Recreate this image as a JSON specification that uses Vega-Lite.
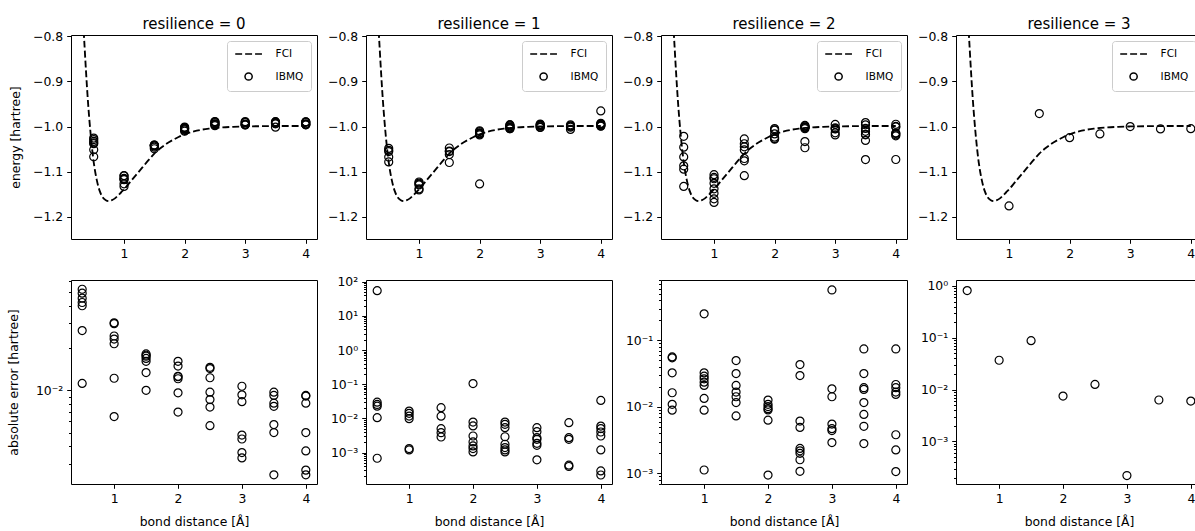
{
"$schema": "https://vega.github.io/schema/vega-lite/v6.json",
"padding": {"left": 6, "top": 16, "right": 0, "bottom": 0},
"config": {
  "font": "DejaVu Sans",
  "view": {"stroke": "black", "strokeWidth": 1},
  "axis": {"domain": false, "grid": false, "tickColor": "black", "tickWidth": 1, "tickSize": 4.3, "labelPadding": 4, "labelFontSize": 12.4, "labelColor": "black", "labelFont": "DejaVu Sans", "titleFont": "DejaVu Sans", "titleFontSize": 12.4, "titleFontWeight": "normal", "titleColor": "black", "labelOverlap": false, "labelFlush": false},
  "axisY": {"titlePadding": 10},
  "axisX": {"titlePadding": 11},
  "title": {"font": "DejaVu Sans", "fontSize": 15, "fontWeight": "normal", "color": "black", "anchor": "middle", "frame": "group", "offset": -2, "baseline": "alphabetic"},
  "legend": {"orient": "top-right", "offset": 6, "padding": 7.5, "fillColor": "rgba(255,255,255,0.8)", "strokeColor": "#cccccc", "cornerRadius": 3, "labelFontSize": 10.5, "labelFont": "DejaVu Sans", "labelColor": "black", "symbolSize": 81, "symbolStrokeWidth": 1.5, "symbolStrokeColor": "black", "symbolFillColor": "transparent", "rowPadding": 9.5, "labelOffset": 21.5, "symbolOffset": 8.6}
},
"datasets": {
"fci": [
{"r":0.30,"E":-0.700},{"r":0.35,"E":-0.825},{"r":0.40,"E":-0.935},{"r":0.45,"E":-1.018},{"r":0.50,"E":-1.079},{"r":0.55,"E":-1.118},{"r":0.60,"E":-1.143},{"r":0.65,"E":-1.157},{"r":0.70,"E":-1.163},{"r":0.75,"E":-1.165},{"r":0.80,"E":-1.163},{"r":0.85,"E":-1.159},{"r":0.90,"E":-1.153},{"r":0.95,"E":-1.146},{"r":1.00,"E":-1.139},{"r":1.10,"E":-1.123},{"r":1.20,"E":-1.107},{"r":1.30,"E":-1.091},{"r":1.40,"E":-1.075},{"r":1.50,"E":-1.060},{"r":1.60,"E":-1.048},{"r":1.70,"E":-1.038},{"r":1.80,"E":-1.030},{"r":1.90,"E":-1.023},{"r":2.00,"E":-1.017},{"r":2.20,"E":-1.009},{"r":2.40,"E":-1.0045},{"r":2.60,"E":-1.002},{"r":2.80,"E":-1.0005},{"r":3.00,"E":-0.9996},{"r":3.50,"E":-0.9988},{"r":4.00,"E":-0.9986}
],
"ibmq": [
{"res":0,"r":0.5,"E":-1.0254,"err":0.0526},{"res":0,"r":0.5,"E":-1.0287,"err":0.0493},{"res":0,"r":0.5,"E":-1.0326,"err":0.0454},{"res":0,"r":0.5,"E":-1.0357,"err":0.0423},{"res":0,"r":0.5,"E":-1.0379,"err":0.0401},{"res":0,"r":0.5,"E":-1.0513,"err":0.0267},{"res":0,"r":0.5,"E":-1.0668,"err":0.0112},
{"res":0,"r":1.0,"E":-1.1087,"err":0.0303},{"res":0,"r":1.0,"E":-1.1091,"err":0.0299},{"res":0,"r":1.0,"E":-1.1146,"err":0.0244},{"res":0,"r":1.0,"E":-1.1158,"err":0.0232},{"res":0,"r":1.0,"E":-1.1175,"err":0.0215},{"res":0,"r":1.0,"E":-1.1268,"err":0.0122},{"res":0,"r":1.0,"E":-1.1325,"err":0.0065},
{"res":0,"r":1.5,"E":-1.0408,"err":0.0182},{"res":0,"r":1.5,"E":-1.0412,"err":0.0178},{"res":0,"r":1.5,"E":-1.0415,"err":0.0175},{"res":0,"r":1.5,"E":-1.0421,"err":0.0169},{"res":0,"r":1.5,"E":-1.0429,"err":0.0161},{"res":0,"r":1.5,"E":-1.0456,"err":0.0134},{"res":0,"r":1.5,"E":-1.049,"err":0.0100},
{"res":0,"r":2.0,"E":-1.0009,"err":0.0161},{"res":0,"r":2.0,"E":-1.0021,"err":0.0149},{"res":0,"r":2.0,"E":-1.0044,"err":0.0126},{"res":0,"r":2.0,"E":-1.0045,"err":0.0125},{"res":0,"r":2.0,"E":-1.0049,"err":0.0121},{"res":0,"r":2.0,"E":-1.0074,"err":0.0096},{"res":0,"r":2.0,"E":-1.0100,"err":0.0070},
{"res":0,"r":2.5,"E":-0.9889,"err":0.0146},{"res":0,"r":2.5,"E":-0.9892,"err":0.0143},{"res":0,"r":2.5,"E":-0.9912,"err":0.0123},{"res":0,"r":2.5,"E":-0.9938,"err":0.0097},{"res":0,"r":2.5,"E":-0.9949,"err":0.0086},{"res":0,"r":2.5,"E":-0.9959,"err":0.0076},{"res":0,"r":2.5,"E":-0.9979,"err":0.0056},
{"res":0,"r":3.0,"E":-0.9889,"err":0.0107},{"res":0,"r":3.0,"E":-0.9903,"err":0.0093},{"res":0,"r":3.0,"E":-0.9913,"err":0.0083},{"res":0,"r":3.0,"E":-0.9948,"err":0.0048},{"res":0,"r":3.0,"E":-0.9951,"err":0.0045},{"res":0,"r":3.0,"E":-0.9960,"err":0.0036},{"res":0,"r":3.0,"E":-0.9963,"err":0.0033},
{"res":0,"r":3.5,"E":-0.9891,"err":0.0097},{"res":0,"r":3.5,"E":-0.9896,"err":0.0092},{"res":0,"r":3.5,"E":-0.9907,"err":0.0081},{"res":0,"r":3.5,"E":-0.9911,"err":0.0077},{"res":0,"r":3.5,"E":-0.9931,"err":0.0057},{"res":0,"r":3.5,"E":-0.9938,"err":0.0050},{"res":0,"r":3.5,"E":-1.0013,"err":0.0025},
{"res":0,"r":4.0,"E":-0.9894,"err":0.0092},{"res":0,"r":4.0,"E":-0.9895,"err":0.0091},{"res":0,"r":4.0,"E":-0.9905,"err":0.0081},{"res":0,"r":4.0,"E":-0.9936,"err":0.0050},{"res":0,"r":4.0,"E":-0.9949,"err":0.0037},{"res":0,"r":4.0,"E":-0.9959,"err":0.0027},{"res":0,"r":4.0,"E":-0.9961,"err":0.0025},
{"res":1,"r":0.5,"E":53.62,"err":54.7},{"res":1,"r":0.5,"E":-1.0482,"err":0.0298},{"res":1,"r":0.5,"E":-1.0525,"err":0.0255},{"res":1,"r":0.5,"E":-1.0552,"err":0.0228},{"res":1,"r":0.5,"E":-1.0675,"err":0.0105},{"res":1,"r":0.5,"E":-1.0783,"err":0.00068},
{"res":1,"r":1.0,"E":-1.1227,"err":0.0163},{"res":1,"r":1.0,"E":-1.125,"err":0.0140},{"res":1,"r":1.0,"E":-1.1273,"err":0.0117},{"res":1,"r":1.0,"E":-1.1292,"err":0.0098},{"res":1,"r":1.0,"E":-1.1403,"err":0.00131},{"res":1,"r":1.0,"E":-1.1378,"err":0.00119},
{"res":1,"r":1.5,"E":-1.0795,"err":0.0205},{"res":1,"r":1.5,"E":-1.0474,"err":0.0116},{"res":1,"r":1.5,"E":-1.054,"err":0.0050},{"res":1,"r":1.5,"E":-1.0552,"err":0.0038},{"res":1,"r":1.5,"E":-1.0619,"err":0.00285},
{"res":1,"r":2.0,"E":-1.127,"err":0.1045},{"res":1,"r":2.0,"E":-1.0092,"err":0.0078},{"res":1,"r":2.0,"E":-1.011,"err":0.0060},{"res":1,"r":2.0,"E":-1.014,"err":0.00305},{"res":1,"r":2.0,"E":-1.015,"err":0.00204},{"res":1,"r":2.0,"E":-1.0155,"err":0.00156},{"res":1,"r":2.0,"E":-1.0183,"err":0.00131},{"res":1,"r":2.0,"E":-1.0160,"err":0.00104},
{"res":1,"r":2.5,"E":-0.9957,"err":0.0078},{"res":1,"r":2.5,"E":-0.9968,"err":0.0067},{"res":1,"r":2.5,"E":-0.9982,"err":0.00535},{"res":1,"r":2.5,"E":-1.0006,"err":0.0029},{"res":1,"r":2.5,"E":-1.0018,"err":0.00175},{"res":1,"r":2.5,"E":-1.0021,"err":0.0014},{"res":1,"r":2.5,"E":-1.0047,"err":0.00119},{"res":1,"r":2.5,"E":-1.0045,"err":0.00104},
{"res":1,"r":3.0,"E":-0.9943,"err":0.00535},{"res":1,"r":3.0,"E":-0.9955,"err":0.00408},{"res":1,"r":3.0,"E":-0.9969,"err":0.00273},{"res":1,"r":3.0,"E":-1.0020,"err":0.00244},{"res":1,"r":3.0,"E":-0.9977,"err":0.00186},{"res":1,"r":3.0,"E":-1.0012,"err":0.00163},{"res":1,"r":3.0,"E":-0.9990,"err":0.00061},
{"res":1,"r":3.5,"E":-1.0063,"err":0.00746},{"res":1,"r":3.5,"E":-0.9961,"err":0.00273},{"res":1,"r":3.5,"E":-1.0012,"err":0.00244},{"res":1,"r":3.5,"E":-0.9984,"err":0.000426},{"res":1,"r":3.5,"E":-0.9992,"err":0.00039},
{"res":1,"r":4.0,"E":-0.9652,"err":0.0334},{"res":1,"r":4.0,"E":-0.9926,"err":0.00596},{"res":1,"r":4.0,"E":-0.9936,"err":0.00501},{"res":1,"r":4.0,"E":-0.9946,"err":0.00399},{"res":1,"r":4.0,"E":-0.9956,"err":0.00305},{"res":1,"r":4.0,"E":-0.9974,"err":0.00119},{"res":1,"r":4.0,"E":-0.9989,"err":0.00029},{"res":1,"r":4.0,"E":-0.9984,"err":0.00022},
{"res":2,"r":0.5,"E":-1.0216,"err":0.0564},{"res":2,"r":0.5,"E":-1.1326,"err":0.0546},{"res":2,"r":0.5,"E":-1.0455,"err":0.0325},{"res":2,"r":0.5,"E":-1.0943,"err":0.0163},{"res":2,"r":0.5,"E":-1.0671,"err":0.0109},{"res":2,"r":0.5,"E":-1.0869,"err":0.0089},
{"res":2,"r":1.0,"E":-1.39,"err":0.251},{"res":2,"r":1.0,"E":-1.1065,"err":0.0325},{"res":2,"r":1.0,"E":-1.1679,"err":0.0289},{"res":2,"r":1.0,"E":-1.1126,"err":0.0264},{"res":2,"r":1.0,"E":-1.1155,"err":0.0235},{"res":2,"r":1.0,"E":-1.160,"err":0.0210},{"res":2,"r":1.0,"E":-1.1256,"err":0.0134},{"res":2,"r":1.0,"E":-1.1479,"err":0.0089},{"res":2,"r":1.0,"E":-1.1379,"err":0.00112},
{"res":2,"r":1.5,"E":-1.1087,"err":0.0497},{"res":2,"r":1.5,"E":-1.0273,"err":0.0317},{"res":2,"r":1.5,"E":-1.038,"err":0.0210},{"res":2,"r":1.5,"E":-1.0757,"err":0.0167},{"res":2,"r":1.5,"E":-1.0448,"err":0.0142},{"res":2,"r":1.5,"E":-1.0706,"err":0.0116},{"res":2,"r":1.5,"E":-1.0517,"err":0.0073},
{"res":2,"r":2.0,"E":-1.0044,"err":0.01265},{"res":2,"r":2.0,"E":-1.0279,"err":0.0109},{"res":2,"r":2.0,"E":-1.0069,"err":0.0101},{"res":2,"r":2.0,"E":-1.0264,"err":0.0094},{"res":2,"r":2.0,"E":-1.0080,"err":0.0090},{"res":2,"r":2.0,"E":-1.0233,"err":0.0063},{"res":2,"r":2.0,"E":-1.0161,"err":0.00094},
{"res":2,"r":2.5,"E":-1.0468,"err":0.0433},{"res":2,"r":2.5,"E":-1.0331,"err":0.0296},{"res":2,"r":2.5,"E":-0.9974,"err":0.0061},{"res":2,"r":2.5,"E":-0.9986,"err":0.0049},{"res":2,"r":2.5,"E":-1.0011,"err":0.00237},{"res":2,"r":2.5,"E":-1.0013,"err":0.00218},{"res":2,"r":2.5,"E":-1.0015,"err":0.0020},{"res":2,"r":2.5,"E":-1.0019,"err":0.0016},{"res":2,"r":2.5,"E":-1.0046,"err":0.00107},
{"res":2,"r":3.0,"E":-1.574,"err":0.574},{"res":2,"r":3.0,"E":-1.0183,"err":0.0187},{"res":2,"r":3.0,"E":-1.0138,"err":0.0142},{"res":2,"r":3.0,"E":-1.0051,"err":0.0055},{"res":2,"r":3.0,"E":-1.0043,"err":0.0047},{"res":2,"r":3.0,"E":-0.9952,"err":0.0044},{"res":2,"r":3.0,"E":-1.0025,"err":0.0029},
{"res":2,"r":3.5,"E":-1.0731,"err":0.0743},{"res":2,"r":3.5,"E":-1.0305,"err":0.0317},{"res":2,"r":3.5,"E":-1.0182,"err":0.0194},{"res":2,"r":3.5,"E":-1.0171,"err":0.0183},{"res":2,"r":3.5,"E":-1.0104,"err":0.0116},{"res":2,"r":3.5,"E":-0.9911,"err":0.0077},{"res":2,"r":3.5,"E":-1.0039,"err":0.0051},{"res":2,"r":3.5,"E":-0.9960,"err":0.0028},
{"res":2,"r":4.0,"E":-1.0729,"err":0.0743},{"res":2,"r":4.0,"E":-1.0203,"err":0.0217},{"res":2,"r":4.0,"E":-1.018,"err":0.0194},{"res":2,"r":4.0,"E":-1.0153,"err":0.0167},{"res":2,"r":4.0,"E":-1.0140,"err":0.0154},{"res":2,"r":4.0,"E":-0.9948,"err":0.0038},{"res":2,"r":4.0,"E":-1.0008,"err":0.00225},{"res":2,"r":4.0,"E":-0.9996,"err":0.00106},
{"res":3,"r":0.5,"E":-1.89,"err":0.812},{"res":3,"r":1.0,"E":-1.1758,"err":0.0368},{"res":3,"r":1.5,"E":-0.9711,"err":0.0879},{"res":3,"r":2.0,"E":-1.0245,"err":0.0075},{"res":3,"r":2.5,"E":-1.0161,"err":0.0126},{"res":3,"r":3.0,"E":-0.9998,"err":0.00022},{"res":3,"r":3.5,"E":-1.0051,"err":0.0063},{"res":3,"r":4.0,"E":-1.0046,"err":0.0060}
]
},
"resolve": {"scale": {"x": "independent", "y": "independent", "shape": "independent"}, "axis": {"x": "independent", "y": "independent"}, "legend": {"shape": "independent"}},
"columns": 4,
"spacing": {"row": 41, "column": 49},
"bounds": "flush",
"concat": [
{"width": 246, "height": 204, "title": "resilience = 0",
 "layer": [
  {"data": {"name": "fci"}, "mark": {"type": "line", "color": "black", "strokeWidth": 1.85, "strokeDash": [6.9, 3], "interpolate": "monotone", "clip": true},
   "encoding": {"x": {"field": "r", "type": "quantitative", "scale": {"domain": [0.125, 4.185], "nice": false}, "axis": {"values": [1,2,3,4], "format": "d", "title": null}},
                "y": {"field": "E", "type": "quantitative", "scale": {"domain": [-1.249, -0.797], "nice": false, "zero": false}, "axis": {"values": [-1.2,-1.1,-1.0,-0.9,-0.8], "format": ".1f", "title": "energy [hartree]"}}}},
  {"data": {"name": "ibmq"}, "transform": [{"filter": "datum.res == 0"}],
   "mark": {"type": "point", "filled": false, "color": "black", "strokeWidth": 1.2, "size": 100, "opacity": 1, "clip": true},
   "encoding": {"x": {"field": "r", "type": "quantitative"}, "y": {"field": "E", "type": "quantitative"},
                "shape": {"datum": "IBMQ", "type": "nominal", "scale": {"domain": ["FCI", "IBMQ"], "range": ["M-2.97,0H-1.44M-0.77,0H0.77M1.44,0H2.97", "M0.8,0A0.8,0.8,0,1,1,-0.8,0A0.8,0.8,0,1,1,0.8,0Z"]}, "legend": {"title": null}}}}
 ]},
{"width": 246, "height": 204, "title": "resilience = 1",
 "layer": [
  {"data": {"name": "fci"}, "mark": {"type": "line", "color": "black", "strokeWidth": 1.85, "strokeDash": [6.9, 3], "interpolate": "monotone", "clip": true},
   "encoding": {"x": {"field": "r", "type": "quantitative", "scale": {"domain": [0.125, 4.185], "nice": false}, "axis": {"values": [1,2,3,4], "format": "d", "title": null}},
                "y": {"field": "E", "type": "quantitative", "scale": {"domain": [-1.249, -0.797], "nice": false, "zero": false}, "axis": {"values": [-1.2,-1.1,-1.0,-0.9,-0.8], "format": ".1f", "title": null}}}},
  {"data": {"name": "ibmq"}, "transform": [{"filter": "datum.res == 1"}],
   "mark": {"type": "point", "filled": false, "color": "black", "strokeWidth": 1.2, "size": 100, "opacity": 1, "clip": true},
   "encoding": {"x": {"field": "r", "type": "quantitative"}, "y": {"field": "E", "type": "quantitative"},
                "shape": {"datum": "IBMQ", "type": "nominal", "scale": {"domain": ["FCI", "IBMQ"], "range": ["M-2.97,0H-1.44M-0.77,0H0.77M1.44,0H2.97", "M0.8,0A0.8,0.8,0,1,1,-0.8,0A0.8,0.8,0,1,1,0.8,0Z"]}, "legend": {"title": null}}}}
 ]},
{"width": 246, "height": 204, "title": "resilience = 2",
 "layer": [
  {"data": {"name": "fci"}, "mark": {"type": "line", "color": "black", "strokeWidth": 1.85, "strokeDash": [6.9, 3], "interpolate": "monotone", "clip": true},
   "encoding": {"x": {"field": "r", "type": "quantitative", "scale": {"domain": [0.125, 4.185], "nice": false}, "axis": {"values": [1,2,3,4], "format": "d", "title": null}},
                "y": {"field": "E", "type": "quantitative", "scale": {"domain": [-1.249, -0.797], "nice": false, "zero": false}, "axis": {"values": [-1.2,-1.1,-1.0,-0.9,-0.8], "format": ".1f", "title": null}}}},
  {"data": {"name": "ibmq"}, "transform": [{"filter": "datum.res == 2"}],
   "mark": {"type": "point", "filled": false, "color": "black", "strokeWidth": 1.2, "size": 100, "opacity": 1, "clip": true},
   "encoding": {"x": {"field": "r", "type": "quantitative"}, "y": {"field": "E", "type": "quantitative"},
                "shape": {"datum": "IBMQ", "type": "nominal", "scale": {"domain": ["FCI", "IBMQ"], "range": ["M-2.97,0H-1.44M-0.77,0H0.77M1.44,0H2.97", "M0.8,0A0.8,0.8,0,1,1,-0.8,0A0.8,0.8,0,1,1,0.8,0Z"]}, "legend": {"title": null}}}}
 ]},
{"width": 246, "height": 204, "title": "resilience = 3",
 "layer": [
  {"data": {"name": "fci"}, "mark": {"type": "line", "color": "black", "strokeWidth": 1.85, "strokeDash": [6.9, 3], "interpolate": "monotone", "clip": true},
   "encoding": {"x": {"field": "r", "type": "quantitative", "scale": {"domain": [0.125, 4.185], "nice": false}, "axis": {"values": [1,2,3,4], "format": "d", "title": null}},
                "y": {"field": "E", "type": "quantitative", "scale": {"domain": [-1.249, -0.797], "nice": false, "zero": false}, "axis": {"values": [-1.2,-1.1,-1.0,-0.9,-0.8], "format": ".1f", "title": null}}}},
  {"data": {"name": "ibmq"}, "transform": [{"filter": "datum.res == 3"}],
   "mark": {"type": "point", "filled": false, "color": "black", "strokeWidth": 1.2, "size": 100, "opacity": 1, "clip": true},
   "encoding": {"x": {"field": "r", "type": "quantitative"}, "y": {"field": "E", "type": "quantitative"},
                "shape": {"datum": "IBMQ", "type": "nominal", "scale": {"domain": ["FCI", "IBMQ"], "range": ["M-2.97,0H-1.44M-0.77,0H0.77M1.44,0H2.97", "M0.8,0A0.8,0.8,0,1,1,-0.8,0A0.8,0.8,0,1,1,0.8,0Z"]}, "legend": {"title": null}}}}
 ]},
{"width": 246, "height": 204, "data": {"name": "ibmq"}, "transform": [{"filter": "datum.res == 0"}],
 "mark": {"type": "point", "filled": false, "color": "black", "strokeWidth": 1.2, "size": 100, "opacity": 1, "clip": true, "shape": "M0.8,0A0.8,0.8,0,1,1,-0.8,0A0.8,0.8,0,1,1,0.8,0Z"},
 "encoding": {"x": {"field": "r", "type": "quantitative", "scale": {"domain": [0.325, 4.175], "nice": false}, "axis": {"values": [1,2,3,4], "format": "d", "title": "bond distance [Å]"}},
              "y": {"field": "err", "type": "quantitative", "scale": {"type": "log", "domain": [0.00215, 0.0612], "nice": false},
                    "axis": {"title": "absolute error [hartree]", "titlePadding": 15, "values": [0.003,0.004,0.005,0.006,0.007,0.008,0.009,0.01,0.02,0.03,0.04,0.05,0.06],
                             "labelExpr": "abs(log(datum.value)/LN10 - round(log(datum.value)/LN10)) < 1e-6 ? '10' + (round(log(datum.value)/LN10) < 0 ? '⁻' : '') + ['⁰','¹','²','³','⁴','⁵'][abs(round(log(datum.value)/LN10))] : ''",
                             "tickSize": {"condition": {"test": "abs(log(datum.value)/LN10 - round(log(datum.value)/LN10)) < 1e-6", "value": 4.3}, "value": 2.5}}}}},
{"width": 246, "height": 204, "data": {"name": "ibmq"}, "transform": [{"filter": "datum.res == 1"}],
 "mark": {"type": "point", "filled": false, "color": "black", "strokeWidth": 1.2, "size": 100, "opacity": 1, "clip": true, "shape": "M0.8,0A0.8,0.8,0,1,1,-0.8,0A0.8,0.8,0,1,1,0.8,0Z"},
 "encoding": {"x": {"field": "r", "type": "quantitative", "scale": {"domain": [0.325, 4.175], "nice": false}, "axis": {"values": [1,2,3,4], "format": "d", "title": "bond distance [Å]"}},
              "y": {"field": "err", "type": "quantitative", "scale": {"type": "log", "domain": [0.00012, 112], "nice": false},
                    "axis": {"title": null, "values": [0.0002,0.0003,0.0004,0.0005,0.0006,0.0007,0.0008,0.0009,0.001,0.002,0.003,0.004,0.005,0.006,0.007,0.008,0.009,0.01,0.02,0.03,0.04,0.05,0.06,0.07,0.08,0.09,0.1,0.2,0.3,0.4,0.5,0.6,0.7,0.8,0.9,1,2,3,4,5,6,7,8,9,10,20,30,40,50,60,70,80,90,100],
                             "labelExpr": "abs(log(datum.value)/LN10 - round(log(datum.value)/LN10)) < 1e-6 ? '10' + (round(log(datum.value)/LN10) < 0 ? '⁻' : '') + ['⁰','¹','²','³','⁴','⁵'][abs(round(log(datum.value)/LN10))] : ''",
                             "tickSize": {"condition": {"test": "abs(log(datum.value)/LN10 - round(log(datum.value)/LN10)) < 1e-6", "value": 4.3}, "value": 2.5}}}}},
{"width": 246, "height": 204, "data": {"name": "ibmq"}, "transform": [{"filter": "datum.res == 2"}],
 "mark": {"type": "point", "filled": false, "color": "black", "strokeWidth": 1.2, "size": 100, "opacity": 1, "clip": true, "shape": "M0.8,0A0.8,0.8,0,1,1,-0.8,0A0.8,0.8,0,1,1,0.8,0Z"},
 "encoding": {"x": {"field": "r", "type": "quantitative", "scale": {"domain": [0.325, 4.175], "nice": false}, "axis": {"values": [1,2,3,4], "format": "d", "title": "bond distance [Å]"}},
              "y": {"field": "err", "type": "quantitative", "scale": {"type": "log", "domain": [0.00069, 0.811], "nice": false},
                    "axis": {"title": null, "values": [0.0007,0.0008,0.0009,0.001,0.002,0.003,0.004,0.005,0.006,0.007,0.008,0.009,0.01,0.02,0.03,0.04,0.05,0.06,0.07,0.08,0.09,0.1,0.2,0.3,0.4,0.5,0.6,0.7,0.8],
                             "labelExpr": "abs(log(datum.value)/LN10 - round(log(datum.value)/LN10)) < 1e-6 ? '10' + (round(log(datum.value)/LN10) < 0 ? '⁻' : '') + ['⁰','¹','²','³','⁴','⁵'][abs(round(log(datum.value)/LN10))] : ''",
                             "tickSize": {"condition": {"test": "abs(log(datum.value)/LN10 - round(log(datum.value)/LN10)) < 1e-6", "value": 4.3}, "value": 2.5}}}}},
{"width": 246, "height": 204, "data": {"name": "ibmq"}, "transform": [{"filter": "datum.res == 3"}],
 "mark": {"type": "point", "filled": false, "color": "black", "strokeWidth": 1.2, "size": 100, "opacity": 1, "clip": true, "shape": "M0.8,0A0.8,0.8,0,1,1,-0.8,0A0.8,0.8,0,1,1,0.8,0Z"},
 "encoding": {"x": {"field": "r", "type": "quantitative", "scale": {"domain": [0.325, 4.175], "nice": false}, "axis": {"values": [1,2,3,4], "format": "d", "title": "bond distance [Å]"}},
              "y": {"field": "err", "type": "quantitative", "scale": {"type": "log", "domain": [0.000151, 1.30], "nice": false},
                    "axis": {"title": null, "values": [0.0002,0.0003,0.0004,0.0005,0.0006,0.0007,0.0008,0.0009,0.001,0.002,0.003,0.004,0.005,0.006,0.007,0.008,0.009,0.01,0.02,0.03,0.04,0.05,0.06,0.07,0.08,0.09,0.1,0.2,0.3,0.4,0.5,0.6,0.7,0.8,0.9,1],
                             "labelExpr": "abs(log(datum.value)/LN10 - round(log(datum.value)/LN10)) < 1e-6 ? '10' + (round(log(datum.value)/LN10) < 0 ? '⁻' : '') + ['⁰','¹','²','³','⁴','⁵'][abs(round(log(datum.value)/LN10))] : ''",
                             "tickSize": {"condition": {"test": "abs(log(datum.value)/LN10 - round(log(datum.value)/LN10)) < 1e-6", "value": 4.3}, "value": 2.5}}}}}
]
}
